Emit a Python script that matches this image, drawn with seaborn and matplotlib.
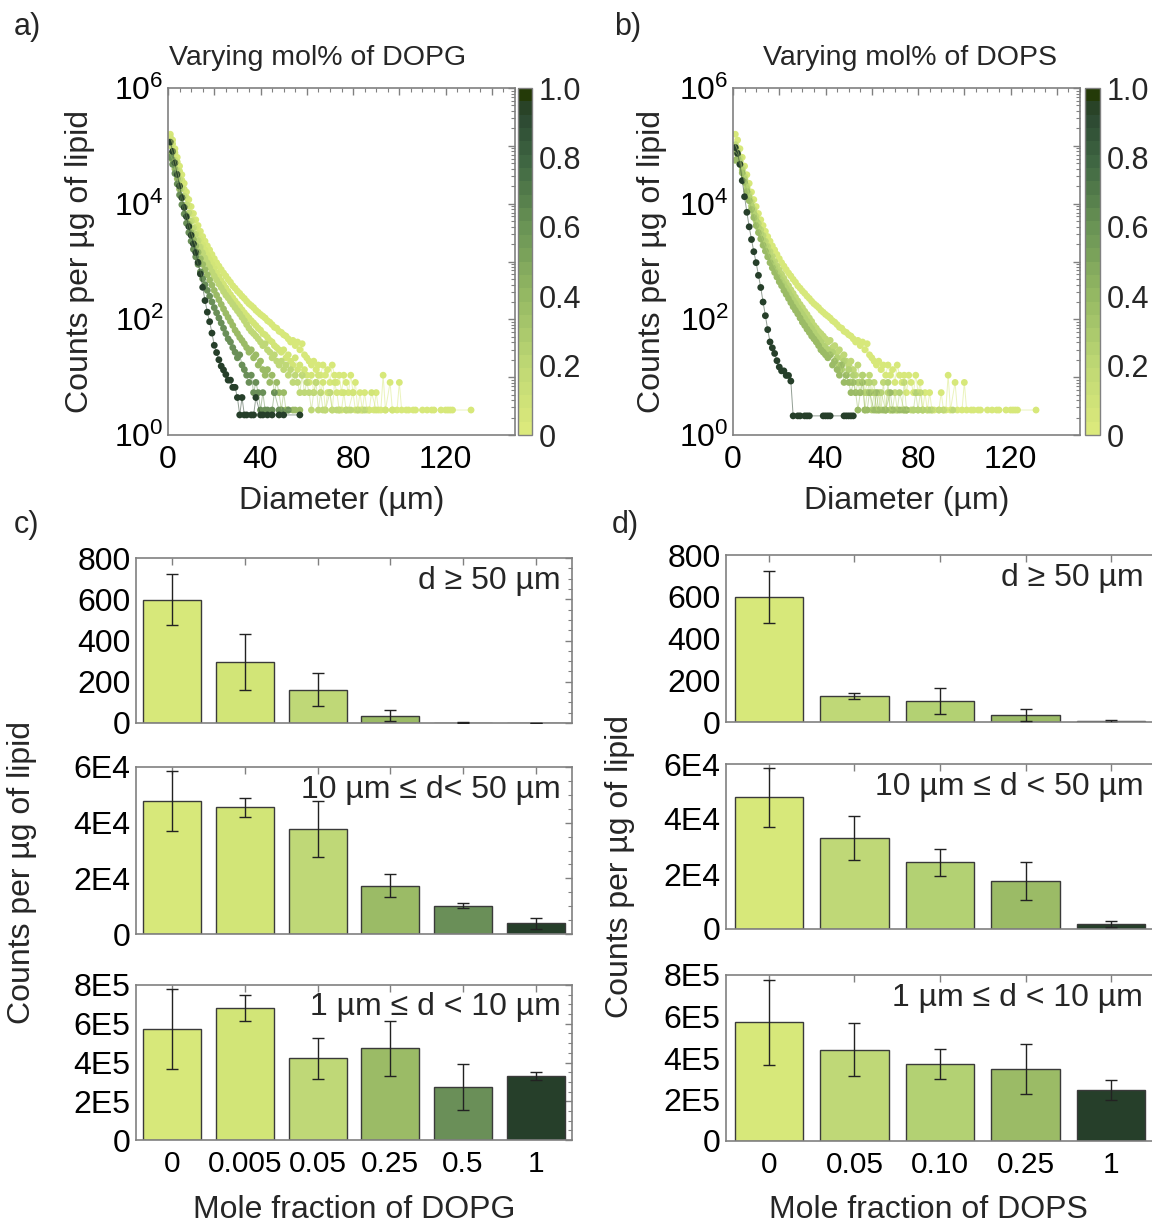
import numpy as np
import pandas as pd
import matplotlib
matplotlib.use("Agg")
import matplotlib.pyplot as plt
import seaborn as sns
from matplotlib.colors import LinearSegmentedColormap, ListedColormap, Normalize
from matplotlib.cm import ScalarMappable
from matplotlib.ticker import MultipleLocator, LogLocator, NullFormatter

sns.set_theme(style="white")
plt.rcParams["font.family"] = ["Liberation Sans", "DejaVu Sans"]
plt.rcParams["mathtext.fontset"] = "custom"
plt.rcParams["mathtext.rm"] = "Liberation Sans"
plt.rcParams["mathtext.it"] = "Liberation Sans:italic"
plt.rcParams["mathtext.bf"] = "Liberation Sans:bold"

# ---------------- vesicle size distributions ----------------
# raw counts in 1 µm diameter bins (bin 1 = 1 µm, bin 2 = 2 µm, ...)
dopc_counts = [
    58700, 46600, 33000, 23400, 16500, 11700, 8300, 5870, 4350, 3300,
    2500, 1950, 1550, 1230, 1000, 830, 690, 587, 490, 415,
    353, 308, 268, 234, 208, 182, 162, 141, 128, 114,
    104, 93, 85, 76, 69, 64, 59, 53, 49, 45,
    42, 39, 35, 33, 30, 27, 26, 23, 22, 20,
    19, 17, 15, 16, 13, 15, 11, 14, 9, 8,
    7, 6, 7, 5, 6, 4, 6, 4, 5, 3,
    6, 4, 3, 4, 2, 4, 3, 2, 4, 2,
    3, 1, 2, 1, 2, 1, 1, 0, 1, 2,
    1, 1, 4, 1, 0, 3, 1, 0, 1, 3,
    1, 0, 1, 1, 0, 1, 1, 0, 0, 1,
    0, 1, 0, 1, 1, 0, 0, 1, 0, 1,
    1, 1, 1, 0, 0, 0, 0, 0, 0, 0, 1,
]
dopg_005_counts = [
    52000, 40000, 28000, 19500, 13500, 9400, 6600, 4700, 3400, 2500,
    1900, 1450, 1130, 890, 710, 580, 475, 395, 330, 278,
    236, 202, 173, 150, 130, 113, 99, 87, 77, 68,
    61, 54, 48, 43, 39, 35, 32, 29, 26, 24,
    21, 20, 18, 16, 15, 13, 12, 11, 10, 11,
    8, 9, 7, 6, 8, 5, 6, 4, 5, 4,
    3, 4, 2, 3, 4, 2, 3, 1, 2, 2,
    1, 3, 2, 1, 1, 2, 1, 1, 0, 2,
    1, 0, 1, 1, 0, 0, 1, 2, 0, 1,
    0, 0, 0, 1, 0, 0, 1,
]
dopg_05_counts = [
    37000, 28000, 20800, 14100, 9800, 6900, 5000, 3550, 2550, 1860,
    1410, 1090, 850, 660, 525, 425, 353, 294, 245, 208,
    177, 151, 131, 112, 97, 87, 76, 67, 59, 52,
    46, 40, 35, 30, 26, 23, 21, 19, 17, 15,
    13, 14, 11, 10, 8, 9, 7, 6, 7, 5,
    6, 4, 5, 3, 4, 3, 2, 4, 2, 3,
    2, 1, 2, 3, 1, 2, 1, 1, 0, 2,
    1, 0, 1, 1, 0, 0, 1, 0, 1, 0,
    0, 1, 0, 0, 1,
]
dopg_25_counts = [
    26200, 20800, 14700, 10000, 6600, 4660, 3220, 2290, 1620, 1170,
    890, 690, 535, 415, 330, 268, 218, 177, 144, 117,
    97, 81, 67, 56, 47, 40, 34, 29, 24, 21,
    18, 16, 14, 12, 10, 11, 8, 9, 6, 7,
    5, 4, 5, 3, 4, 2, 3, 2, 1, 2,
    1, 1, 0, 1, 1, 0, 1,
]
dopg_50_counts = [
    23400, 17700, 12300, 8100, 5230, 3550, 2450, 1700, 1170, 830,
    600, 445, 330, 245, 186, 147, 117, 93, 74, 59,
    48, 39, 32, 26, 21, 17, 15, 12, 10, 8,
    9, 6, 5, 4, 3, 4, 2, 3, 2, 1,
    2, 1, 1, 0, 1, 2, 0, 1, 1, 0,
    0, 1,
]
dopg_100_counts = [
    52200, 36100, 22800, 14400, 9100, 5730, 3870, 2680, 1810, 1280,
    908, 643, 434, 274, 161, 95, 60, 41, 26, 16,
    12, 9, 7, 6, 5, 4, 4, 3, 3, 2,
    1, 2, 1, 1, 0, 1, 1, 2, 0, 1,
    1, 0, 1, 0, 1, 0, 0, 1, 0, 1,
    0, 0, 0, 0, 0, 0, 1,
]
dops_05_counts = [
    38800, 30800, 22800, 15800, 10900, 7550, 5480, 3970, 2940, 2230,
    1690, 1310, 1040, 830, 675, 550, 455, 370, 308, 262,
    223, 190, 162, 141, 120, 104, 89, 77, 67, 59,
    51, 45, 39, 34, 29, 26, 23, 21, 19, 17,
    15, 16, 12, 13, 10, 11, 8, 9, 7, 6,
    7, 5, 4, 6, 3, 4, 2, 3, 4, 2,
    3, 1, 2, 1, 3, 1, 2, 1, 1, 2,
    1, 0, 1, 3, 1, 0, 1, 1, 0, 1,
    2, 1, 0, 1, 0, 1, 0, 0, 1, 0,
    1, 0, 0, 0, 1,
]
dops_10_counts = [
    29400, 26200, 19900, 14100, 9800, 6750, 4770, 3380, 2500, 1860,
    1410, 1090, 850, 675, 535, 435, 353, 294, 245, 208,
    177, 151, 128, 110, 93, 79, 69, 59, 51, 45,
    39, 34, 29, 26, 22, 19, 17, 15, 13, 12,
    11, 9, 10, 7, 8, 6, 5, 7, 4, 5,
    3, 4, 2, 3, 2, 4, 1, 2, 3, 1,
    2, 1, 1, 2, 0, 1, 3, 1, 0, 1,
    1, 2, 0, 1, 1, 0, 0, 1, 2, 1,
    0, 1, 0, 0, 1,
]
dops_25_counts = [
    20800, 22300, 17700, 12600, 8700, 6000, 4160, 2940, 2130, 1550,
    1170, 910, 705, 560, 445, 353, 287, 239, 199, 165,
    141, 117, 100, 85, 72, 61, 53, 46, 39, 33,
    29, 25, 22, 19, 17, 15, 13, 11, 10, 9,
    8, 9, 6, 7, 5, 4, 6, 3, 4, 3,
    2, 3, 2, 1, 2, 3, 1, 1, 2, 0,
    1, 2, 1, 0, 1, 1, 0, 2, 1, 0,
    0, 1, 0, 1, 1,
]
dops_100_counts = [
    43600, 34600, 22400, 11700, 6160, 3310, 1860, 1120, 690, 446,
    269, 166, 93, 54, 31, 19, 15, 12, 9, 7,
    6, 6, 5, 5, 4, 1, 0, 1, 1, 0,
    1, 1, 1, 0, 0, 0, 0, 0, 1, 1,
    1, 1, 0, 0, 0, 0, 0, 1, 1, 1,
    1, 1,
]

# lipid mass used for each sample (µg)
dopg_fractions = ["0", "0.005", "0.05", "0.25", "0.5", "1"]
dopg_lipid_ug = [0.37, 0.37, 0.37, 0.37, 0.37, 0.45]
dops_fractions = ["0", "0.05", "0.10", "0.25", "1"]
dops_lipid_ug = [0.37, 0.37, 0.37, 0.37, 0.467]

# ---------------- binned totals (counts per µg of lipid) ----------------
dopg_large = [598, 296, 162, 36, 1.5, 0.8]
dopg_large_err = [123, 137, 79, 27, 1, 1]
dopg_mid = [47900, 45500, 37700, 17400, 10100, 3800]
dopg_mid_err = [10800, 3500, 10100, 4150, 900, 2000]
dopg_small = [572000, 683000, 421000, 473000, 273000, 330000]
dopg_small_err = [205000, 67000, 104000, 143000, 119000, 22000]

dops_large = [598, 123, 100, 34, 3]
dops_large_err = [123, 15, 64, 28, 6]
dops_mid = [47900, 33100, 24200, 17300, 1800]
dops_mid_err = [10800, 7900, 5000, 6900, 950]
dops_small = [572000, 440000, 369000, 347000, 246000]
dops_small_err = [205000, 127000, 72000, 120000, 50000]

# ---------------- styling ----------------
dopg_colors = ["#d7e87a", "#d2e577", "#bfd877", "#9bbb66", "#6a8f58", "#263f2a"]
dops_colors = ["#d7e87a", "#bfd877", "#b3d173", "#9bbb66", "#263f2a"]
grey = "#808080"
FS = 23

ramp = LinearSegmentedColormap.from_list(
    "lipid_green",
    [(0.0, "#dbe97c"), (0.2, "#bcd673"), (0.4, "#94b863"), (0.6, "#6a9455"),
     (0.8, "#3f6642"), (0.95, "#2a4530"), (1.0, "#243a08")],
)
band_cmap = ListedColormap(ramp(np.linspace(0, 1, 26)))

W, H = 1152, 1224
fig = plt.figure(figsize=(W / 100, H / 100), dpi=100)


def box(l, t, r, b):
    return [l / W, 1 - b / H, (r - l) / W, (b - t) / H]


def fxy(x, y):
    return x / W, 1 - y / H


def frame(ax, right=True):
    for s in ax.spines.values():
        s.set_color(grey)
        s.set_linewidth(1.2)
        s.set_visible(True)
    ax.tick_params(which="both", direction="in", top=True, right=right,
                   color=grey, labelsize=FS, labelcolor="black")
    ax.tick_params(which="major", length=5, width=1)
    ax.tick_params(which="minor", length=3, width=0.8)


def size_panel(ax, cax, curves, labels, masses, colors, title_xy, title, ylab_x):
    frames = []
    for lab, counts, m in zip(labels, curves, masses):
        c = np.asarray(counts, dtype=float)
        d = np.arange(1, len(c) + 1)
        keep = c > 0
        frames.append(pd.DataFrame({"diameter": d[keep],
                                    "per_ug": c[keep] / m,
                                    "fraction": lab}))
    df = pd.concat(frames, ignore_index=True)
    pal = dict(zip(labels, colors))
    ax.set_yscale("log")
    sns.lineplot(data=df, x="diameter", y="per_ug", hue="fraction", palette=pal,
                 hue_order=labels, estimator=None, sort=False, linewidth=0.7,
                 alpha=0.5, legend=False, ax=ax)
    sns.scatterplot(data=df, x="diameter", y="per_ug", hue="fraction", palette=pal,
                    hue_order=labels, s=24, linewidth=0, legend=False, ax=ax)
    ax.set_xlim(0, 150)
    ax.set_ylim(1, 1e6)
    ax.set_xticks(range(0, 141, 20), ["0", "", "40", "", "80", "", "120", ""])
    ax.xaxis.set_minor_locator(MultipleLocator(5))
    ax.set_yticks([10.0 ** k for k in range(7)],
                  ["$10^{0}$", "", "$10^{2}$", "", "$10^{4}$", "", "$10^{6}$"])
    ax.yaxis.set_minor_locator(LogLocator(base=10, subs=np.arange(2, 10), numticks=20))
    ax.yaxis.set_minor_formatter(NullFormatter())
    frame(ax)
    ax.tick_params(axis="x", pad=7)
    ax.tick_params(axis="y", pad=3)
    ax.set_xlabel("Diameter (µm)", fontsize=FS, labelpad=8)
    ax.set_ylabel("Counts per µg of lipid", fontsize=FS)
    ax.yaxis.set_label_coords(ylab_x, 0.5)
    fig.text(*fxy(*title_xy), title, fontsize=20.5, ha="center", va="center")

    sm = ScalarMappable(norm=Normalize(0, 1), cmap=band_cmap)
    cb = fig.colorbar(sm, cax=cax)
    cb.set_ticks([0, 0.2, 0.4, 0.6, 0.8, 1.0], labels=["0", "0.2", "0.4", "0.6", "0.8", "1.0"])
    cb.ax.tick_params(length=0, labelsize=22, pad=5)
    cb.outline.set_edgecolor(grey)
    cb.outline.set_linewidth(1.0)


def bar_panel(ax, labels, values, errors, colors, note, ymax, major, minor,
              ticklabels, show_x, right=True):
    df = pd.DataFrame({"fraction": labels, "value": values})
    sns.barplot(data=df, x="fraction", y="value", hue="fraction", order=labels,
                hue_order=labels, palette=dict(zip(labels, colors)), width=0.8,
                saturation=1, edgecolor="#3a3a3a", linewidth=1.0, errorbar=None,
                legend=False, ax=ax)
    ax.errorbar(np.arange(len(labels)), values, yerr=errors, fmt="none",
                ecolor="#222222", elinewidth=1.0, capsize=4, capthick=1.0, zorder=5)
    ax.set_xlim(-0.5, len(labels) - 0.5)
    ax.set_ylim(0, ymax)
    ax.set_yticks(np.arange(0, ymax + 1, major), ticklabels)
    ax.yaxis.set_minor_locator(MultipleLocator(minor))
    frame(ax, right=right)
    ax.tick_params(axis="y", pad=4)
    ax.tick_params(axis="x", pad=7, labelsize=21.5)
    if not show_x:
        ax.tick_params(axis="x", labelbottom=False)
    ax.set_xlabel("")
    ax.set_ylabel("")
    ax.text(0.975, 0.86, note, transform=ax.transAxes, fontsize=FS,
            ha="right", va="center")


# ---------------- panels a and b ----------------
ax_a = fig.add_axes(box(168, 88, 515, 435))
cax_a = fig.add_axes(box(518, 88, 532, 435))
size_panel(ax_a, cax_a,
           [dopc_counts, dopg_005_counts, dopg_05_counts, dopg_25_counts,
            dopg_50_counts, dopg_100_counts],
           dopg_fractions, dopg_lipid_ug, dopg_colors, (318, 58),
           "Varying mol% of DOPG", -0.21)

ax_b = fig.add_axes(box(733, 88, 1080, 435))
cax_b = fig.add_axes(box(1085, 88, 1100, 435))
size_panel(ax_b, cax_b,
           [dopc_counts, dops_05_counts, dops_10_counts, dops_25_counts,
            dops_100_counts],
           dops_fractions, dops_lipid_ug, dops_colors, (910, 58),
           "Varying mol% of DOPS", -0.19)

# ---------------- panel c (DOPG) ----------------
c1 = fig.add_axes(box(136, 558, 572, 723))
c2 = fig.add_axes(box(136, 767, 572, 934))
c3 = fig.add_axes(box(136, 985, 572, 1140))
bar_panel(c1, dopg_fractions, dopg_large, dopg_large_err, dopg_colors,
          "d ≥ 50 µm", 800, 200, 50, ["0", "200", "400", "600", "800"], False)
bar_panel(c2, dopg_fractions, dopg_mid, dopg_mid_err, dopg_colors,
          "10 µm ≤ d< 50 µm", 60000, 20000, 5000, ["0", "2E4", "4E4", "6E4"], False)
bar_panel(c3, dopg_fractions, dopg_small, dopg_small_err, dopg_colors,
          "1 µm ≤ d < 10 µm", 800000, 200000, 50000,
          ["0", "2E5", "4E5", "6E5", "8E5"], True)

# ---------------- panel d (DOPS) ----------------
d1 = fig.add_axes(box(726, 555, 1154, 722))
d2 = fig.add_axes(box(726, 764, 1154, 929))
d3 = fig.add_axes(box(726, 975, 1154, 1141))
bar_panel(d1, dops_fractions, dops_large, dops_large_err, dops_colors,
          "d ≥ 50 µm", 800, 200, 50, ["0", "200", "400", "600", "800"], False,
          right=False)
bar_panel(d2, dops_fractions, dops_mid, dops_mid_err, dops_colors,
          "10 µm ≤ d < 50 µm", 60000, 20000, 5000, ["0", "2E4", "4E4", "6E4"], False,
          right=False)
bar_panel(d3, dops_fractions, dops_small, dops_small_err, dops_colors,
          "1 µm ≤ d < 10 µm", 800000, 200000, 50000,
          ["0", "2E5", "4E5", "6E5", "8E5"], True, right=False)

# shared labels for the bar panels
fig.text(*fxy(22, 872), "Counts per µg of lipid", fontsize=FS, rotation=90,
         ha="center", va="center")
fig.text(*fxy(620, 866), "Counts per µg of lipid", fontsize=FS, rotation=90,
         ha="center", va="center")
fig.text(*fxy(354, 1210), "Mole fraction of DOPG", fontsize=FS, ha="center", va="center")
fig.text(*fxy(928, 1210), "Mole fraction of DOPS", fontsize=FS, ha="center", va="center")

# panel letters
for letter, (x, y) in {"a)": (14, 27), "b)": (614, 27), "c)": (14, 525),
                       "d)": (612, 525)}.items():
    fig.text(*fxy(x, y), letter, fontsize=22, ha="left", va="center")

fig.savefig("out.png", dpi=100)
